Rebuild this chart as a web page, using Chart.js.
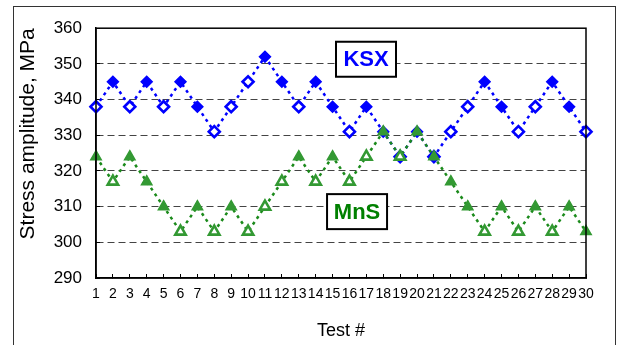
<!DOCTYPE html>
<html>
<head>
<meta charset="utf-8">
<script src="https://cdn.jsdelivr.net/npm/chart.js@4.4.1/dist/chart.umd.min.js"></script>
<style>
  html, body { margin: 0; padding: 0; background: #fff; }
  #wrap { position: relative; width: 618px; height: 345px; overflow: hidden; }
  #frame { position: absolute; left: 13px; top: 6px; width: 601px; height: 400px; border: 1px solid #333; }
  canvas { position: absolute; left: 0; top: 0; }
</style>
</head>
<body>
<div id="wrap">
  <div id="frame"></div>
  <canvas id="chart" width="618" height="345"></canvas>
</div>
<script>
// Staircase fatigue tests: stress level per test and outcome (1 = failure, 0 = run-out)
const testNumbers = ['1','2','3','4','5','6','7','8','9','10','11','12','13','14','15',
                     '16','17','18','19','20','21','22','23','24','25','26','27','28','29','30'];
const ksxStress = [338,345,338,345,338,345,338,331,338,345,352,345,338,345,338,
                   331,338,331,324,331,324,331,338,345,338,331,338,345,338,331];
const ksxFailed = [0,1,0,1,0,1,1,0,0,0,1,1,0,1,1,0,1,1,0,1,0,0,0,1,1,0,0,1,1,0];
const mnsStress = [324,317,324,317,310,303,310,303,310,303,310,317,324,317,324,
                   317,324,331,324,331,324,317,310,303,310,303,310,303,310,303];
const mnsFailed = [1,0,1,1,1,0,1,0,1,0,0,0,1,0,1,0,0,1,0,1,1,1,1,0,1,0,1,0,1,1];
const yMin = 290, yMax = 360, yStep = 10;

const FONT = "'Liberation Sans', Arial, sans-serif";
const BLUE = '#0000ff';
const GREEN = '#339933';
const GREEN_LINE = '#1b8a1b';

// Boxed series labels placed in data coordinates
const seriesTags = [
  { text: 'KSX', color: BLUE,      x: 15.98, y: 351.3 },
  { text: 'MnS', color: '#008000', x: 15.45, y: 308.6 }
];

const tagPlugin = {
  id: 'seriesTags',
  afterDraw(chart) {
    const { ctx, chartArea: a, scales } = chart;
    ctx.save();
    // plot frame
    ctx.strokeStyle = '#000';
    ctx.lineWidth = 1.5;
    ctx.strokeRect(a.left, a.top, a.right - a.left, a.bottom - a.top);
    // series tags
    ctx.font = 'bold 22px ' + FONT;
    ctx.textAlign = 'center';
    ctx.textBaseline = 'middle';
    seriesTags.forEach(t => {
      const cx = scales.x.getPixelForValue(t.x);
      const cy = scales.y.getPixelForValue(t.y);
      const w = 60, h = 35;
      ctx.fillStyle = '#fff';
      ctx.fillRect(cx - w / 2, cy - h / 2, w, h);
      ctx.lineWidth = 2;
      ctx.strokeStyle = '#000';
      ctx.strokeRect(cx - w / 2, cy - h / 2, w, h);
      ctx.fillStyle = t.color;
      ctx.fillText(t.text, cx, cy + 1);
    });
    ctx.restore();
  }
};

const fillFor = (flags, color) => flags.map(f => f ? color : '#ffffff');
const borderFor = (flags) => flags.map(f => f ? 1.5 : 2.6);

new Chart(document.getElementById('chart'), {
  type: 'line',
  data: {
    labels: testNumbers,
    datasets: [
      {
        label: 'MnS',
        data: mnsStress,
        borderColor: GREEN_LINE,
        borderWidth: 2.5,
        borderDash: [3, 4],
        pointStyle: 'triangle',
        pointRadius: 6,
        pointBorderWidth: borderFor(mnsFailed),
        pointBorderColor: GREEN,
        pointBackgroundColor: fillFor(mnsFailed, GREEN),
        tension: 0,
        fill: false
      },
      {
        label: 'KSX',
        data: ksxStress,
        borderColor: BLUE,
        borderWidth: 2.5,
        borderDash: [3, 4],
        pointStyle: 'rectRot',
        pointRadius: 5.5,
        pointBorderWidth: borderFor(ksxFailed),
        pointBorderColor: BLUE,
        pointBackgroundColor: fillFor(ksxFailed, BLUE),
        tension: 0,
        fill: false
      }
    ]
  },
  options: {
    responsive: false,
    devicePixelRatio: 1,
    animation: false,
    layout: { padding: { top: 23, right: 32, left: 0, bottom: 0 } },
    plugins: { legend: { display: false }, tooltip: { enabled: false } },
    scales: {
      x: {
        type: 'category',
        offset: false,
        afterFit(scale) { scale.height = 67; },
        grid: { drawOnChartArea: false, drawTicks: true, tickLength: -4, tickColor: '#000' },
        border: { display: true, color: '#000', width: 1.5 },
        ticks: {
          autoSkip: false, maxRotation: 0, minRotation: 0,
          padding: 12, color: '#000',
          font: { family: FONT, size: 14 }
        },
        title: {
          display: true, text: 'Test #', color: '#000',
          font: { family: FONT, size: 18 },
          padding: { top: 0, bottom: 3 }
        }
      },
      y: {
        min: yMin, max: yMax,
        afterFit(scale) { scale.width = 96; },
        grid: {
          drawTicks: true, tickLength: -4, tickColor: '#000',
          color: ctx => (ctx.tick && (ctx.tick.value === yMin || ctx.tick.value === yMax)) ? 'rgba(0,0,0,0)' : '#444',
          lineWidth: 1
        },
        border: { display: true, color: '#000', width: 1.5, dash: [7, 4] },
        ticks: {
          stepSize: yStep, padding: 18, color: '#000',
          font: { family: FONT, size: 17 }
        },
        title: {
          display: true, text: 'Stress amplitude, MPa', color: '#000',
          align: 'end',
          font: { family: FONT, size: 21 },
          padding: { top: 16, bottom: 0 }
        }
      }
    }
  },
  plugins: [tagPlugin]
});
</script>
</body>
</html>
